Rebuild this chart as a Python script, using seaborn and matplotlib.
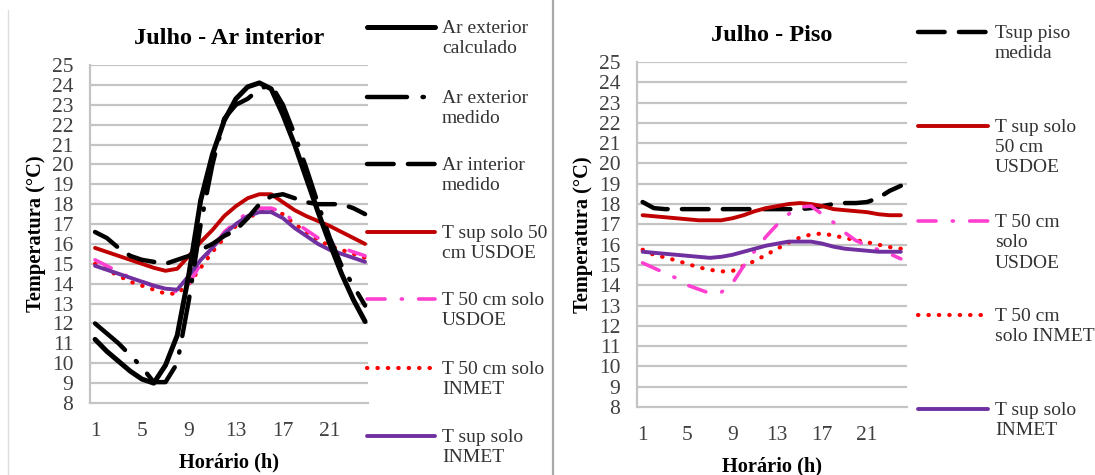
import numpy as np
import pandas as pd
import seaborn as sns
import matplotlib
matplotlib.use("Agg")
import matplotlib.pyplot as plt
from matplotlib.lines import Line2D

sns.set_theme(style="white")
plt.rcParams['font.family'] = ['Liberation Serif', 'DejaVu Serif']

hours = list(range(1, 25))
xticks = [1, 5, 9, 13, 17, 21]
yticks = list(range(8, 26))

# ---- Left panel: Julho - Ar interior ----
ar_ext_calc = [11.2, 10.6, 10.1, 9.6, 9.2, 9.0, 9.9, 11.4, 14.5, 18.2, 20.5, 22.2,
               23.3, 23.9, 24.1, 23.8, 22.5, 21.0, 19.3, 17.6, 16.0, 14.5, 13.2, 12.1]
ar_ext_med = [12.0, 11.5, 11.0, 10.4, 9.8, 9.05, 9.05, 10.0, 13.2, 17.0, 20.0, 22.3,
              23.0, 23.3, 23.8, 24.0, 23.0, 21.5, 19.8, 18.0, 16.3, 14.9, 13.9, 12.9]
ar_int_med = [16.6, 16.3, 15.8, 15.4, 15.2, 15.1, 15.0, 15.2, 15.4, 15.7, 16.0, 16.4,
              16.7, 17.3, 18.0, 18.4, 18.5, 18.3, 18.1, 18.0, 18.0, 18.0, 17.8, 17.5]
L_sup50_usdoe = [15.8, 15.6, 15.4, 15.2, 15.0, 14.8, 14.65, 14.75, 15.4, 16.1, 16.7, 17.4,
                 17.9, 18.3, 18.5, 18.5, 18.1, 17.7, 17.4, 17.15, 16.9, 16.6, 16.3, 16.0]
L_50_usdoe = [15.2, 14.9, 14.6, 14.3, 14.1, 13.9, 13.7, 13.6, 14.0, 15.0, 15.8, 16.6,
              17.1, 17.6, 17.8, 17.8, 17.6, 17.1, 16.7, 16.3, 16.0, 15.8, 15.6, 15.4]
L_50_inmet = [15.0, 14.7, 14.4, 14.1, 13.9, 13.7, 13.5, 13.5, 14.0, 14.8, 15.6, 16.3,
              16.9, 17.3, 17.6, 17.7, 17.5, 17.0, 16.6, 16.2, 15.9, 15.7, 15.5, 15.3]
L_sup_inmet = [14.9, 14.7, 14.5, 14.3, 14.1, 13.9, 13.75, 13.7, 14.4, 15.2, 15.8, 16.5,
               17.0, 17.4, 17.6, 17.6, 17.3, 16.8, 16.4, 16.0, 15.7, 15.5, 15.3, 15.1]

# ---- Right panel: Julho - Piso ----
tsup_piso_med = [18.1, 17.8, 17.75, 17.75, 17.75, 17.75, 17.75, 17.75, 17.75, 17.75, 17.75, 17.75,
                 17.75, 17.75, 17.75, 17.8, 17.9, 18.0, 18.05, 18.05, 18.1, 18.3, 18.65, 18.9]
R_sup50_usdoe = [17.45, 17.4, 17.35, 17.3, 17.25, 17.2, 17.2, 17.2, 17.3, 17.45, 17.65, 17.8,
                 17.9, 18.0, 18.05, 18.0, 17.9, 17.75, 17.7, 17.65, 17.6, 17.5, 17.45, 17.45]
R_50_usdoe = [15.1, 14.85, 14.6, 14.35, 14.0, 13.8, 13.6, 13.65, 14.1, 14.95, 15.7, 16.4,
              17.0, 17.5, 17.85, 17.9, 17.5, 17.1, 16.6, 16.2, 15.95, 15.75, 15.55, 15.3]
R_50_inmet = [15.75, 15.5, 15.37, 15.22, 15.05, 14.88, 14.76, 14.68, 14.7, 14.95, 15.2, 15.5,
              15.8, 16.1, 16.35, 16.5, 16.55, 16.45, 16.33, 16.22, 16.12, 16.0, 15.88, 15.8]
R_sup_inmet = [15.65, 15.6, 15.55, 15.5, 15.45, 15.4, 15.35, 15.4, 15.5, 15.65, 15.8, 15.95,
               16.05, 16.15, 16.15, 16.15, 16.05, 15.9, 15.8, 15.75, 15.7, 15.65, 15.65, 15.65]

left_labels = ["Ar exterior\ncalculado", "Ar exterior\nmedido", "Ar interior\nmedido",
               "T sup solo 50\ncm USDOE", "T 50 cm solo\nUSDOE", "T 50 cm solo\nINMET",
               "T sup solo\nINMET"]
right_labels = ["Tsup piso\nmedida", "T sup solo\n50 cm\nUSDOE", "T 50 cm\nsolo\nUSDOE",
                "T 50 cm\nsolo INMET", "T sup solo\nINMET"]

# styles
S_BLACK = dict(color="black", lw=3.6, ls="-", solid_capstyle="round")
S_DASHDOT = dict(color="black", lw=3.2, ls=(0, (9, 3.5, 0.3, 3.5)), dash_capstyle="round")
S_DASH = dict(color="black", lw=3.2, ls=(0, (6, 3.2)), dash_capstyle="round")
S_RED = dict(color="#C00000", lw=2.8, ls="-", solid_capstyle="round")
S_PINK = dict(color="#FF3FCF", lw=2.6, ls=(0, (5, 4.5, 0.3, 4.5)), dash_capstyle="round")
S_RDOT = dict(color="#FF0000", lw=3.0, ls=(0, (0.1, 2.4)), dash_capstyle="round")
S_PURP = dict(color="#7030A0", lw=2.8, ls="-", solid_capstyle="round")

W, H = 1095, 475
fig = plt.figure(figsize=(W / 100, H / 100), dpi=100)
fig.patch.set_facecolor("white")

def fx(px):
    return px / W

def fy(py):
    return 1 - py / H

axL = fig.add_axes([fx(90), fy(403), fx(368) - fx(90), fy(65) - fy(403)])
axR = fig.add_axes([fx(637), fy(407), fx(907) - fx(637), fy(62) - fy(407)])

left_series = [(ar_ext_calc, S_BLACK, 6), (ar_ext_med, S_DASHDOT, 5), (ar_int_med, S_DASH, 4),
               (L_sup50_usdoe, S_RED, 3), (L_50_usdoe, S_PINK, 3.2), (L_50_inmet, S_RDOT, 3.1),
               (L_sup_inmet, S_PURP, 3.3)]
right_series = [(tsup_piso_med, S_DASH, 3), (R_sup50_usdoe, S_RED, 3), (R_50_usdoe, S_PINK, 3.2),
                (R_50_inmet, S_RDOT, 3.1), (R_sup_inmet, S_PURP, 3.3)]

for ax, series in ((axL, left_series), (axR, right_series)):
    for vals, st, z in series:
        sns.lineplot(x=hours, y=vals, ax=ax, zorder=z, **st)

GRID = "#c4c4c4"
TICKC = "#404040"
for ax, title, xl in ((axL, "Julho - Ar interior", (0.57, 24.25)), (axR, "Julho - Piso", (0.5, 24.55))):
    ax.set_xlim(*xl)
    ax.set_ylim(8, 25)
    ax.set_yticks(yticks)
    ax.set_xticks(xticks)
    ax.set_yticklabels([str(v) for v in yticks], fontsize=15.5, color=TICKC)
    ax.set_xticklabels([str(v) for v in xticks], fontsize=15.5, color=TICKC)
    ax.tick_params(axis="y", length=0, pad=12)
    ax.tick_params(axis="x", length=0, pad=14)
    ax.set_facecolor("white")
    for y in yticks[1:]:
        ax.axhline(y, color=GRID, lw=1.6, zorder=0)
    for s in ("top", "right"):
        ax.spines[s].set_visible(False)
    for s in ("left", "bottom"):
        ax.spines[s].set_color(GRID)
        ax.spines[s].set_linewidth(1.6)
    ax.set_title(title, fontsize=17.5, fontweight="bold", pad=15, color="black")
    ax.set_xlabel("Horário (h)", fontsize=14.7, fontweight="bold", labelpad=8, color="black")
    ax.set_ylabel("Temperatura (°C)", fontsize=14.7, fontweight="bold", labelpad=4, color="black")

# legends (drawn manually to mimic the original layout)
def legend(styles, labels, ys, x0, x1, xt):
    for st, lab, y in zip(styles, labels, ys):
        ln = Line2D([fx(x0), fx(x1)], [fy(y), fy(y)], transform=fig.transFigure, **st)
        fig.add_artist(ln)
        fig.text(fx(xt), fy(y - 7), lab, fontsize=14, color="#333333", va="top",
                 ha="left", linespacing=1.25)

legend([s for _, s, _ in left_series], left_labels, [27, 97, 164, 232, 299, 368, 436], 367, 435, 442)
legend([s for _, s, _ in right_series], right_labels, [32, 126, 221, 315, 409], 918, 988, 995)

# panel separators
fig.add_artist(Line2D([fx(553), fx(553)], [0, 1], transform=fig.transFigure, color="#a8a8a8", lw=1.6))
fig.add_artist(Line2D([fx(8), fx(8)], [0, fy(10)], transform=fig.transFigure, color="#dddddd", lw=1.0))

fig.savefig("out.png", dpi=100, facecolor="white")
